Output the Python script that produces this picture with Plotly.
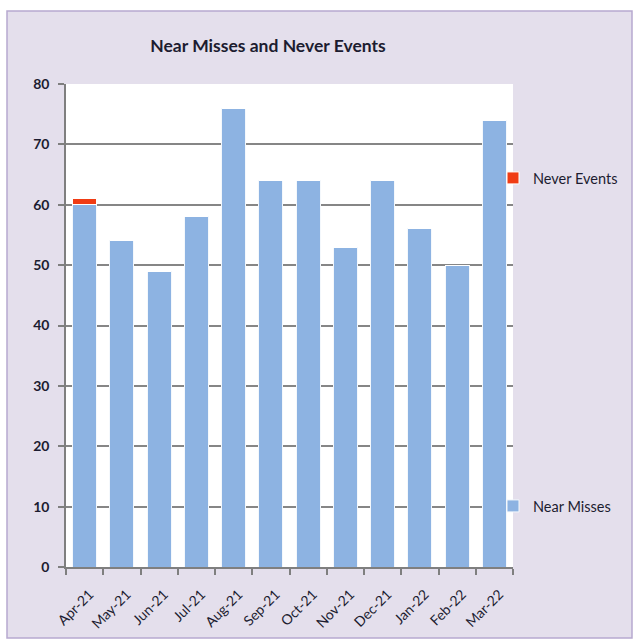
import plotly.graph_objects as go

months = ["Apr-21", "May-21", "Jun-21", "Jul-21", "Aug-21", "Sep-21",
          "Oct-21", "Nov-21", "Dec-21", "Jan-22", "Feb-22", "Mar-22"]
near_misses = [60, 54, 49, 58, 76, 64, 64, 53, 64, 56, 50, 74]
never_events = [1, 0, 0, 0, 0, 0, 0, 0, 0, 0, 0, 0]

W, H = 635, 639
L, R, T, B = 66, 513, 84, 567  # plot area in px

def px_x(p):
    return (p - L) / (R - L)

def px_y(p):
    return (B - p) / (B - T)

FONT = "Lato"
TXT = "#1C1C30"

fig = go.Figure()
fig.add_trace(go.Bar(
    x=months, y=near_misses, name="Near Misses",
    marker=dict(color="#8DB3E2", line=dict(color="#F4F8FC", width=1)),
    legend="legend2",
))
fig.add_trace(go.Bar(
    x=months, y=never_events, name="Never Events",
    marker=dict(color="#F03C14", line=dict(color="#FFFFFF", width=1)),
    legend="legend",
))

fig.update_layout(
    width=W, height=H,
    barmode="stack",
    bargap=0.36,
    margin=dict(l=L, r=W - R, t=T, b=H - B, autoexpand=False),
    paper_bgcolor="#FFFFFF",
    plot_bgcolor="#FFFFFF",
    font=dict(family=FONT, color=TXT),
    title=dict(
        text="<b>Near Misses and Never Events</b>",
        x=268 / W, xref="container", xanchor="center",
        y=1 - 46 / H, yref="container", yanchor="middle",
        font=dict(size=17.5, family=FONT, color=TXT),
    ),
    xaxis=dict(
        type="category",
        tickangle=-45,
        tickson="boundaries",
        ticks="outside", ticklen=6, tickcolor="#7F7F7F", tickwidth=1.5,
        showline=True, linecolor="#7F7F7F", linewidth=1.5,
        showgrid=False,
        automargin=False,
        ticklabelstandoff=12,
        ticklabelshift=5,
        tickfont=dict(size=14, family=FONT, color=TXT),
    ),
    yaxis=dict(
        range=[0, 80], dtick=10,
        ticks="outside", ticklen=6, tickcolor="#7F7F7F", tickwidth=1.5,
        showline=True, linecolor="#7F7F7F", linewidth=1.5,
        showgrid=True, gridcolor="#868686", gridwidth=1.5,
        zeroline=False,
        automargin=False,
        ticklabelstandoff=6,
        tickfont=dict(size=14, family=FONT, color=TXT, weight="bold"),
    ),
    legend=dict(
        x=px_x(493), y=px_y(178), xanchor="left", yanchor="middle",
        bgcolor="rgba(0,0,0,0)", itemwidth=30,
        font=dict(size=14.5, family=FONT, color=TXT),
    ),
    legend2=dict(
        x=px_x(493), y=px_y(506), xanchor="left", yanchor="middle",
        bgcolor="rgba(0,0,0,0)", itemwidth=30,
        font=dict(size=14.5, family=FONT, color=TXT),
    ),
    showlegend=True,
    shapes=[dict(
        type="rect", xref="paper", yref="paper", layer="below",
        x0=px_x(7), x1=px_x(632), y0=px_y(638), y1=px_y(11),
        fillcolor="#E4DFEC", line=dict(color="#B7A9CF", width=1.5),
    ), dict(
        type="rect", xref="paper", yref="paper", layer="below",
        x0=0, x1=1, y0=0, y1=1,
        fillcolor="#FFFFFF", line=dict(width=0),
    )],
)

fig.write_html("out.html")
